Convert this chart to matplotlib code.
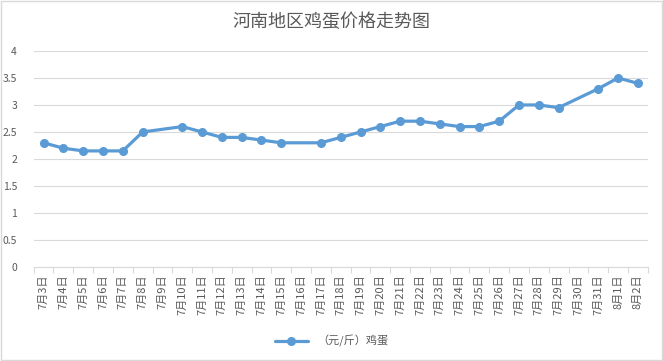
import matplotlib
matplotlib.use('Agg')
import matplotlib.pyplot as plt
import numpy as np

plt.rcParams['font.family'] = ['Noto Sans CJK SC', 'DejaVu Sans']

# dates 7月3日 .. 8月2日, None = no value that day
dias = ['7月%d日' % d for d in range(3, 32)] + ['8月1日', '8月2日']
precos = [2.3, 2.2, 2.15, 2.15, 2.15, 2.5, None, 2.6, 2.5, 2.4, 2.4, 2.35, 2.3, None, 2.3,
          2.4, 2.5, 2.6, 2.7, 2.7, 2.65, 2.6, 2.6, 2.7, 3.0, 3.0, 2.95, None, 3.3, 3.5, 3.4]
titulo = '河南地区鸡蛋价格走势图'
serie = '（元/斤）鸡蛋'

cinza = '#595959'
azul = '#5B9BD5'

fig = plt.figure(figsize=(6.63, 3.61), dpi=100)
ax = fig.add_axes([0.0508, 0.260, 0.9262, 0.599])

xs = [i for i, v in enumerate(precos) if v is not None]
ys = [v for v in precos if v is not None]
ax.plot(xs, ys, color=azul, lw=2.3, marker='o', ms=5.5, label=serie, solid_capstyle='round')

n = len(dias)
ax.set_xlim(-0.5, n - 0.5)
ax.set_ylim(0, 4)
ax.set_yticks(np.arange(0, 4.01, 0.5))
ax.set_yticklabels(['0', '0.5', '1', '1.5', '2', '2.5', '3', '3.5', '4'])
ax.yaxis.grid(True, color='#D9D9D9', lw=0.8)
ax.set_axisbelow(True)

ax.set_xticks(range(n))
ax.set_xticklabels(dias, rotation=90, fontsize=8, color=cinza)
ax.set_xticks(np.arange(-0.5, n, 1), minor=True)
ax.tick_params(axis='x', which='major', length=0, pad=5)
ax.tick_params(axis='x', which='minor', length=4, color='#D9D9D9', width=0.8)
ax.tick_params(axis='y', length=0, labelsize=7.5, labelcolor=cinza, pad=12)

for s in ['left', 'right', 'top']:
    ax.spines[s].set_visible(False)
ax.spines['bottom'].set_color('#D9D9D9')
ax.spines['bottom'].set_linewidth(0.8)

fig.text(0.5, 0.94, titulo, ha='center', va='center', fontsize=13, color=cinza)

leg = fig.legend(loc='center', bbox_to_anchor=(0.5, 0.055), frameon=False, fontsize=8,
                 handlelength=3, labelcolor=cinza)

# borda do grafico
fig.patches.append(plt.Rectangle((0.001, 0.002), 0.997, 0.995, transform=fig.transFigure,
                                 fill=False, edgecolor='#D9D9D9', lw=1))

fig.savefig('out.png', dpi=100)
